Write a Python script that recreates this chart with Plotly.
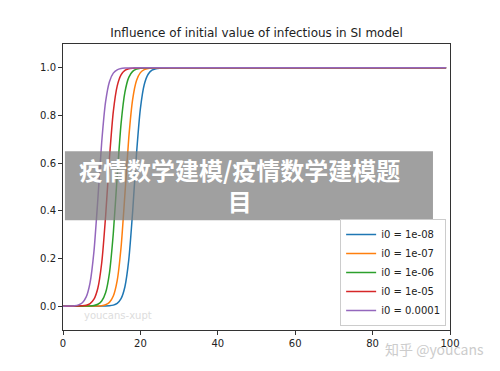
import plotly.graph_objects as go

# time points (days)
t = list(range(0, 31)) + [99]

# values
i_1e8 = [0.0, 0.0, 0.0, 0.0, 0.0, 0.0, 0.0, 0.0, 0.0, 0.00008, 0.00022, 0.0006, 0.0016, 0.0044,
         0.0119, 0.0316, 0.0816, 0.195, 0.397, 0.641, 0.829, 0.930, 0.973, 0.990, 0.9962,
         0.9986, 0.9995, 0.9998, 1.0, 1.0, 1.0, 1.0]
i_1e7 = [0.0, 0.0, 0.0, 0.0, 0.0, 0.0, 0.00004, 0.00011, 0.0003, 0.0008, 0.0022, 0.0060, 0.016,
         0.0424, 0.107, 0.246, 0.470, 0.707, 0.868, 0.947, 0.980, 0.9925, 0.9972, 0.999,
         0.9996, 0.9999, 1.0, 1.0, 1.0, 1.0, 1.0, 1.0]
i_1e6 = [0.0, 0.0, 0.0, 0.00002, 0.00005, 0.00015, 0.0004, 0.0011, 0.0030, 0.0080, 0.0215,
         0.0562, 0.139, 0.306, 0.545, 0.765, 0.898, 0.960, 0.985, 0.9944, 0.9979, 0.9992,
         0.9997, 0.9999, 1.0, 1.0, 1.0, 1.0, 1.0, 1.0, 1.0, 1.0]
i_1e5 = [0.00001, 0.000027, 0.000074, 0.0002, 0.00055, 0.0015, 0.0040, 0.0109, 0.0291, 0.0751,
         0.181, 0.375, 0.620, 0.816, 0.923, 0.970, 0.989, 0.9959, 0.9985, 0.9994, 0.9998,
         1.0, 1.0, 1.0, 1.0, 1.0, 1.0, 1.0, 1.0, 1.0, 1.0, 1.0]
i_1e4 = [0.0001, 0.00027, 0.00074, 0.0020, 0.0054, 0.0146, 0.0388, 0.0988, 0.2297, 0.4476,
         0.6878, 0.857, 0.942, 0.978, 0.9918, 0.997, 0.9989, 0.9996, 0.9998, 1.0, 1.0, 1.0,
         1.0, 1.0, 1.0, 1.0, 1.0, 1.0, 1.0, 1.0, 1.0, 1.0]

series_names = ["i0 = 1e-08", "i0 = 1e-07", "i0 = 1e-06", "i0 = 1e-05", "i0 = 0.0001"]
series_values = [i_1e8, i_1e7, i_1e6, i_1e5, i_1e4]
colors = ["#1f77b4", "#ff7f0e", "#2ca02c", "#d62728", "#9467bd"]

x_ticks = [0, 20, 40, 60, 80, 100]
x_ticklabels = ["0", "20", "40", "60", "80", "100"]
y_ticks = [0.0, 0.2, 0.4, 0.6, 0.8, 1.0]
y_ticklabels = ["0.0", "0.2", "0.4", "0.6", "0.8", "1.0"]

title = "Influence of initial value of infectious in SI model"
overlay_text = "疫情数学建模/疫情数学建模题<br>目"

FONT = "DejaVu Sans"
CJK = "Noto Sans CJK SC"

fig = go.Figure()
for name, vals, c in zip(series_names, series_values, colors):
    fig.add_trace(go.Scatter(x=t, y=vals, mode="lines", name=name,
                             line=dict(color=c, width=1.5, shape="spline", smoothing=0.6)))

# the page body adds an 8px offset, so margins are reduced by 8px on left/top
fig.update_layout(
    width=500, height=371,
    margin=dict(l=55, r=58, t=36, b=49),
    paper_bgcolor="white", plot_bgcolor="white",
    font=dict(family=FONT, size=10, color="#222"),
    title=dict(text=title, x=0.5, xref="paper", y=1 - 25 / 371, yref="container",
               xanchor="center", yanchor="middle", font=dict(family=FONT, size=12, color="#222")),
    showlegend=True,
    legend=dict(x=0.99, y=0.014, xanchor="right", yanchor="bottom",
                bgcolor="white", bordercolor="#cccccc", borderwidth=1,
                font=dict(family=FONT, size=10, color="#222"), itemwidth=30,
                tracegroupgap=0),
)
fig.update_xaxes(range=[0, 100], tickvals=x_ticks, ticktext=x_ticklabels,
                 showgrid=False, zeroline=False, showline=True, linecolor="#333",
                 linewidth=1, mirror=True, ticks="outside", ticklen=4, tickcolor="#333",
                 tickfont=dict(family=FONT, size=10, color="#222"))
fig.update_yaxes(range=[-0.1, 1.1], tickvals=y_ticks, ticktext=y_ticklabels,
                 showgrid=False, zeroline=False, showline=True, linecolor="#333",
                 linewidth=1, mirror=True, ticks="outside", ticklen=4, tickcolor="#333",
                 tickfont=dict(family=FONT, size=10, color="#222"))

# watermark overlay box
fig.add_shape(type="rect", xref="paper", yref="paper",
              x0=0.005, x1=0.956, y0=0.384, y1=0.625,
              fillcolor="rgba(128,128,128,0.75)", line=dict(width=0), layer="above")
fig.add_annotation(text=overlay_text, xref="paper", yref="paper", x=0.455, y=0.5065,
                   showarrow=False, xanchor="center", yanchor="middle", align="center",
                   font=dict(family=CJK, size=24, color="white", weight="bold"))
fig.add_annotation(text="youcans-xupt", xref="paper", yref="paper", x=0.1434, y=0.049,
                   showarrow=False, xanchor="center", yanchor="middle",
                   font=dict(family=FONT, size=10, color="#dddddd"))
fig.add_annotation(text="知乎 @youcans", xref="paper", yref="paper", x=0.961, y=-0.066,
                   showarrow=False, xanchor="center", yanchor="middle",
                   font=dict(family=CJK, size=14, color="#cccccc"))

fig.write_html("out.html")
